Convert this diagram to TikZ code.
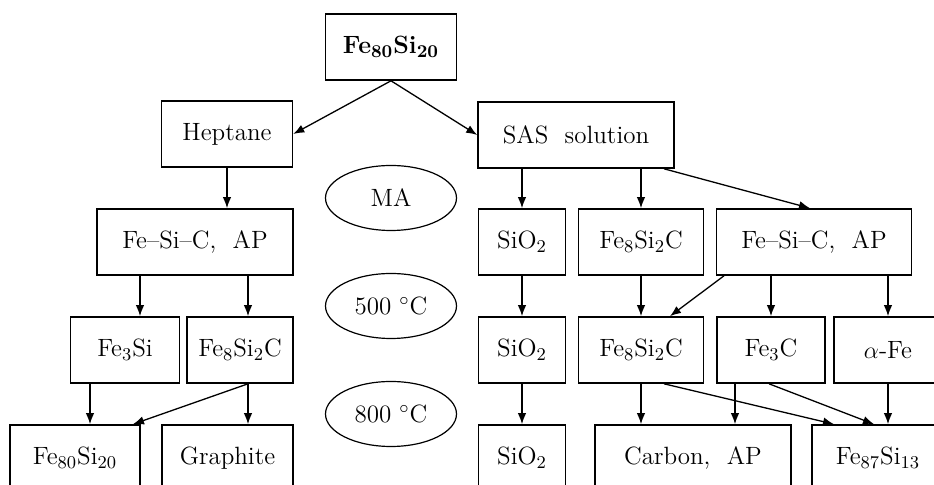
\documentclass[tikz,border=0pt]{standalone}
\usetikzlibrary{shapes.geometric,arrows.meta,calc}
\begin{document}
\begin{tikzpicture}[x=0.5pt,y=-0.5pt,
  every node/.style={font=\fontsize{12.5}{15}\selectfont},
  bx/.style={draw,line width=0.8pt,rectangle,inner sep=0pt,minimum height=33pt},
  el/.style={draw,line width=0.6pt,ellipse,inner sep=0pt,minimum width=65.5pt,minimum height=32.5pt},
  arr/.style={line width=0.65pt,-{Latex[length=5.5pt,width=4.2pt]}}]
\useasboundingbox (0,0) rectangle (934,485);
\clip (0,0) rectangle (934,485);
% row 0/1
\node[bx,minimum width=65.5pt] (top) at (391,47) {\textbf{Fe$_{\mathbf{80}}$Si$_{\mathbf{20}}$}};
\node[bx,minimum width=65.5pt] (heptane) at (227,134) {Heptane};
\node[bx,minimum width=98pt] (sas) at (576,135) {SAS~~solution};
\node[el] (ma) at (391,198) {MA};
% row 2
\node[bx,minimum width=98pt] (fscL) at (195,242) {Fe--Si--C,~~AP};
\node[bx,minimum width=43.5pt] (sio2a) at (522,242) {SiO$_2$};
\node[bx,minimum width=62.5pt] (fe8a) at (641,242) {Fe$_8$Si$_2$C};
\node[bx,minimum width=97.5pt] (fscR) at (814,242) {Fe--Si--C,~~AP};
\node[el] (t500) at (391,306) {500~$^\circ$C};
% row 3
\node[bx,minimum width=54.5pt] (fe3si) at (125,350) {Fe$_3$Si};
\node[bx,minimum width=53pt] (fe8b) at (240,350) {Fe$_8$Si$_2$C};
\node[bx,minimum width=43.5pt] (sio2b) at (522,350) {SiO$_2$};
\node[bx,minimum width=62.5pt] (fe8c) at (641,350) {Fe$_8$Si$_2$C};
\node[bx,minimum width=54pt] (fe3c) at (771,350) {Fe$_3$C};
\node[bx,minimum width=54pt] (afe) at (888,350) {$\alpha$-Fe};
\node[el] (t800) at (391,414) {800~$^\circ$C};
% row 4
\node[bx,minimum width=65pt] (fe80b) at (75,458) {Fe$_{80}$Si$_{20}$};
\node[bx,minimum width=65.5pt] (graphite) at (227.5,458) {Graphite};
\node[bx,minimum width=43.5pt] (sio2c) at (522,458) {SiO$_2$};
\node[bx,minimum width=98pt] (carbon) at (693,458) {Carbon,~~AP};
\node[bx,minimum width=66pt] (fe87) at (878,458) {Fe$_{87}$Si$_{13}$};
% arrows
\draw[arr] (top.south) -- (heptane.east);
\draw[arr] (top.south) -- (sas.west);
\draw[arr] (heptane.south) -- (heptane.south |- fscL.north);
\draw[arr] (sio2a.north |- sas.south) -- (sio2a.north);
\draw[arr] (fe8a.north |- sas.south) -- (fe8a.north);
\draw[arr] ($(sas.south)+(88,0)$) -- ($(fscR.north)+(-4,0)$);
\draw[arr] ($(fscL.south)+(-55,0)$) -- ($(fe3si.north)+(15,0)$);
\draw[arr] ($(fscL.south)+(53,0)$) -- ($(fe8b.north)+(8,0)$);
\draw[arr] (sio2a.south) -- (sio2b.north);
\draw[arr] (fe8a.south) -- (fe8c.north);
\draw[arr] ($(fscR.south)+(-90,0)$) -- ($(fe8c.north)+(29,0)$);
\draw[arr] (fe3c.north |- fscR.south) -- (fe3c.north);
\draw[arr] (afe.north |- fscR.south) -- (afe.north);
\draw[arr] ($(fe3si.south)+(-35,0)$) -- ($(fe80b.north)+(15,0)$);
\draw[arr] ($(fe8b.south)+(8,0)$) -- ($(fe80b.north)+(58,0)$);
\draw[arr] ($(fe8b.south)+(8,0)$) -- ($(graphite.north)+(20.5,0)$);
\draw[arr] (sio2b.south) -- (sio2c.north);
\draw[arr] (fe8c.south) -- (fe8c.south |- carbon.north);
\draw[arr] ($(fe3c.south)+(-36,0)$) -- ($(carbon.north)+(42,0)$);
\draw[arr] ($(fe8c.south)+(23,0)$) -- ($(fe87.north)+(-44,0)$);
\draw[arr] ($(fe3c.south)+(-2,0)$) -- ($(fe87.north)+(-4,0)$);
\draw[arr] (afe.south) -- (afe.south |- fe87.north);
\end{tikzpicture}
\end{document}
